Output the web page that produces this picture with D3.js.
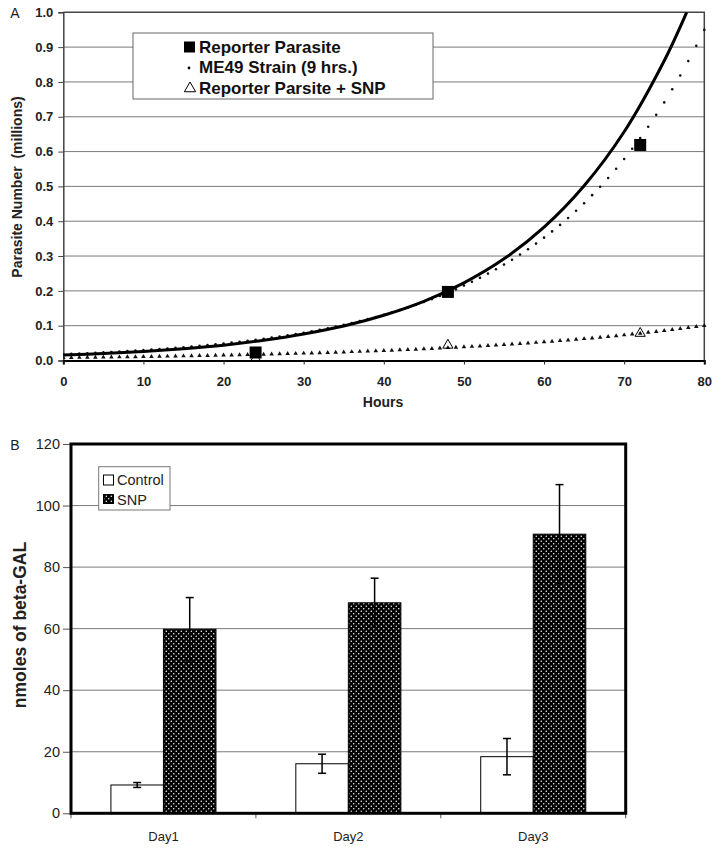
<!DOCTYPE html>
<html><head><meta charset="utf-8">
<script src="https://cdn.jsdelivr.net/npm/d3@7"></script>
<style>
body{margin:0;background:#fff;}
svg text{font-family:"Liberation Sans",Arial,sans-serif;}
</style></head>
<body>
<svg id="c" width="717" height="851"></svg>
<script>
// ---------- Panel A data ----------
const xTicksA = [0,10,20,30,40,50,60,70,80];
const yTicksA = [0,0.1,0.2,0.3,0.4,0.5,0.6,0.7,0.8,0.9,1.0];
const reporterHours = [24,48,72];
const reporterValues = [0.023,0.197,0.619];
const snpHours = [24,48,72];
const snpValues = [0.003,0.041,0.075];
// trend line of reporter parasite
const trendHours = [0,5,10,15,20,25,30,35,40,45,50,55,60,65,70,75,77.8];
const trendValues = [0.016,0.020,0.026,0.034,0.044,0.058,0.076,0.099,0.130,0.170,0.223,0.292,0.383,0.502,0.657,0.861,1.0];
// ME49 strain (9 hrs.) hourly markers, hours 0..80
const me49Values = [
0.0181,0.0190,0.0200,0.0210,0.0221,0.0232,0.0244,0.0256,0.0269,0.0283,
0.0297,0.0312,0.0328,0.0344,0.0362,0.0380,0.0400,0.0420,0.0441,0.0464,
0.0487,0.0512,0.0538,0.0565,0.0594,0.0624,0.0656,0.0689,0.0724,0.0761,
0.0799,0.0840,0.0882,0.0927,0.0974,0.1024,0.1075,0.1130,0.1187,0.1248,
0.1311,0.1377,0.1447,0.1521,0.1598,0.1679,0.1764,0.1854,0.1948,0.2047,
0.2151,0.2260,0.2374,0.2495,0.2622,0.2754,0.2894,0.3041,0.3195,0.3357,
0.3528,0.3707,0.3895,0.4093,0.4300,0.4518,0.4748,0.4989,0.5242,0.5508,
0.5787,0.6081,0.6390,0.6714,0.7055,0.7412,0.7789,0.8184,0.8599,0.9036,
0.9494];
// Reporter + SNP hourly trend markers, hours 0..80
const snpTrendValues = [
0.0080,0.0083,0.0085,0.0088,0.0091,0.0094,0.0097,0.0100,0.0103,0.0106,
0.0110,0.0113,0.0117,0.0121,0.0124,0.0129,0.0133,0.0137,0.0141,0.0146,
0.0151,0.0155,0.0160,0.0165,0.0171,0.0176,0.0182,0.0188,0.0194,0.0200,
0.0207,0.0213,0.0220,0.0227,0.0234,0.0242,0.0250,0.0258,0.0266,0.0274,
0.0283,0.0292,0.0302,0.0311,0.0321,0.0332,0.0342,0.0353,0.0365,0.0376,
0.0389,0.0401,0.0414,0.0427,0.0441,0.0455,0.0470,0.0485,0.0500,0.0516,
0.0533,0.0550,0.0568,0.0586,0.0605,0.0624,0.0644,0.0665,0.0686,0.0708,
0.0731,0.0755,0.0779,0.0804,0.0830,0.0856,0.0884,0.0912,0.0941,0.0972,
0.1003];
const legendA = ["Reporter Parasite","ME49 Strain (9 hrs.)","Reporter Parsite + SNP"];

// ---------- Panel B data ----------
const days = ["Day1","Day2","Day3"];
const groups = ["Control","SNP"];
const controlMeans = [9.2,16.1,18.4];
const controlErr = [0.8,3.1,5.9];
const snpMeans = [59.8,68.4,90.7];
const snpErr = [10.3,8.0,16.1];
const yTicksB = [0,20,40,60,80,100,120];

const svg = d3.select("#c");

// pattern for SNP bars
const defs = svg.append("defs");
const pat = defs.append("pattern").attr("id","dots").attr("patternUnits","userSpaceOnUse")
  .attr("width",5).attr("height",5);
pat.append("rect").attr("width",5).attr("height",5).attr("fill","#000");
pat.append("circle").attr("cx",1.25).attr("cy",1.25).attr("r",0.75).attr("fill","#fff");
pat.append("circle").attr("cx",3.75).attr("cy",3.75).attr("r",0.75).attr("fill","#fff");

// ================= Panel A =================
const xA = d3.scaleLinear().domain([0,80]).range([63.3,704.3]);
const yA = d3.scaleLinear().domain([0,1]).range([360.5,12.3]);
const gA = svg.append("g");

// gridlines
gA.selectAll("line.grid").data(yTicksA.filter(d=>d>0&&d<1)).join("line")
  .attr("x1",xA(0)).attr("x2",xA(80)).attr("y1",d=>yA(d)).attr("y2",d=>yA(d))
  .attr("stroke","#7a7a7a").attr("stroke-width",1);
// frame top/right
gA.append("path").attr("d",`M${xA(0)},${yA(1)}H${xA(80)}V${yA(0)}`)
  .attr("fill","none").attr("stroke","#444").attr("stroke-width",1.5);

// axes
const yAxA = gA.append("g").attr("transform",`translate(${xA(0)},0)`)
  .call(d3.axisLeft(yA).tickValues(yTicksA).tickFormat(d3.format(".1f")).tickSize(5).tickPadding(5));
yAxA.select(".domain").attr("stroke","#444").attr("stroke-width",1.5);
yAxA.selectAll(".tick line").attr("stroke","#444");
yAxA.selectAll("text").attr("font-size",13).attr("font-weight","bold").attr("fill","#222");

const xAxA = gA.append("g").attr("transform",`translate(0,${yA(0)})`)
  .call(d3.axisBottom(xA).tickValues(xTicksA).tickFormat(d3.format("d")).tickSize(4).tickPadding(12));
xAxA.select(".domain").attr("stroke","#000").attr("stroke-width",2);
xAxA.selectAll(".tick line").attr("stroke","#222");
xAxA.selectAll("text").attr("font-size",13).attr("font-weight","bold").attr("fill","#222");

// titles
gA.append("text").attr("x",383).attr("y",407).attr("text-anchor","middle")
  .attr("font-size",14).attr("font-weight","bold").attr("fill","#222").text("Hours");
gA.append("text").attr("transform","translate(22,187) rotate(-90)").attr("text-anchor","middle")
  .attr("font-size",14).attr("font-weight","bold").attr("fill","#222").attr("xml:space","preserve")
  .text("Parasite Number  (millions)");
gA.append("text").attr("x",15).attr("y",18).attr("text-anchor","middle")
  .attr("font-size",14).attr("fill","#222").text("A");

// clip for plot
defs.append("clipPath").attr("id","clipA").append("rect")
  .attr("x",xA(0)).attr("y",yA(1)).attr("width",xA(80)-xA(0)+3).attr("height",yA(0)-yA(1));
const plotA = gA.append("g").attr("clip-path","url(#clipA)");

const hoursAll = d3.range(me49Values.length);
// SNP trend small triangles
plotA.selectAll("path.snpT").data(snpTrendValues).join("path")
  .attr("transform",(d,i)=>`translate(${xA(hoursAll[i])},${yA(d)})`)
  .attr("d",d3.symbol(d3.symbolTriangle,9)).attr("fill","#111");
// ME49 dots
plotA.selectAll("circle.me").data(me49Values).join("circle")
  .attr("cx",(d,i)=>xA(hoursAll[i])).attr("cy",d=>yA(d)).attr("r",1.3).attr("fill","#111");
// trend line
const line = d3.line().x((d,i)=>xA(trendHours[i])).y(d=>yA(d)).curve(d3.curveCatmullRom);
plotA.append("path").datum(trendValues).attr("d",line)
  .attr("fill","none").attr("stroke","#000").attr("stroke-width",3);
// reporter squares
plotA.selectAll("rect.rep").data(reporterValues).join("rect")
  .attr("x",(d,i)=>xA(reporterHours[i])-6).attr("y",d=>yA(d)-6)
  .attr("width",12).attr("height",12).attr("fill","#000");
// SNP hollow triangles
gA.selectAll("path.snp").data(snpValues).join("path")
  .attr("transform",(d,i)=>`translate(${xA(snpHours[i])},${yA(d)-1})`)
  .attr("d",d3.symbol(d3.symbolTriangle,45)).attr("fill","none").attr("stroke","#000").attr("stroke-width",1);

// legend A
const lgA = gA.append("g");
lgA.append("rect").attr("x",133).attr("y",33).attr("width",300).attr("height",66)
  .attr("fill","#fff").attr("stroke","#666").attr("stroke-width",1);
lgA.selectAll("text").data(legendA).join("text")
  .attr("x",199).attr("y",(d,i)=>53+i*20.4).attr("font-size",17).attr("font-weight","bold")
  .attr("fill","#111").text(d=>d);
lgA.append("rect").attr("x",184).attr("y",41.5).attr("width",11).attr("height",11).attr("fill","#000");
lgA.append("circle").attr("cx",189).attr("cy",68).attr("r",1.4).attr("fill","#000");
lgA.append("path").attr("transform","translate(190,88.5)").attr("d",d3.symbol(d3.symbolTriangle,55))
  .attr("fill","none").attr("stroke","#000").attr("stroke-width",1);

// ================= Panel B =================
const xB = d3.scaleBand().domain(days).range([71,625.7]).padding(0);
const xSub = d3.scaleBand().domain(groups).range([0,xB.bandwidth()]).paddingInner(0).paddingOuter(0.76);
const yB = d3.scaleLinear().domain([0,120]).range([813.3,444]);
const gB = svg.append("g");

gB.selectAll("line.grid").data(yTicksB.filter(d=>d>0&&d<120)).join("line")
  .attr("x1",xB.range()[0]).attr("x2",xB.range()[1]).attr("y1",d=>yB(d)).attr("y2",d=>yB(d))
  .attr("stroke","#7a7a7a").attr("stroke-width",1);

const yAxB = gB.append("g").attr("transform",`translate(71,0)`)
  .call(d3.axisLeft(yB).tickValues(yTicksB).tickSize(8).tickPadding(3));
yAxB.select(".domain").remove();
yAxB.selectAll(".tick line").attr("stroke","#555");
yAxB.selectAll("text").attr("font-size",14.5).attr("fill","#222");

const xAxB = gB.append("g").attr("transform",`translate(0,${yB(0)})`)
  .call(d3.axisBottom(xB).tickSize(0).tickPadding(18));
xAxB.select(".domain").remove();
xAxB.selectAll("text").attr("font-size",13).attr("fill","#222");
// category boundary ticks
const bounds = days.map(d=>xB(d)).concat([xB.range()[1]]);
gB.selectAll("line.bt").data(bounds).join("line")
  .attr("x1",d=>d).attr("x2",d=>d).attr("y1",yB(0)).attr("y2",yB(0)+5)
  .attr("stroke","#555").attr("stroke-width",1);

// bars
const barData = [];
days.forEach((d,i)=>{
  barData.push({day:d,g:"Control",v:controlMeans[i],e:controlErr[i]});
  barData.push({day:d,g:"SNP",v:snpMeans[i],e:snpErr[i]});
});
gB.selectAll("rect.bar").data(barData).join("rect")
  .attr("x",d=>xB(d.day)+xSub(d.g)).attr("y",d=>yB(d.v))
  .attr("width",xSub.bandwidth()).attr("height",d=>yB(0)-yB(d.v))
  .attr("fill",d=>d.g==="SNP"?"url(#dots)":"#fff").attr("stroke","#000").attr("stroke-width",1);
// error bars
const eb = gB.selectAll("g.eb").data(barData).join("g")
  .attr("transform",d=>`translate(${xB(d.day)+xSub(d.g)+xSub.bandwidth()/2},0)`);
eb.append("line").attr("y1",d=>yB(d.v-d.e)).attr("y2",d=>yB(d.v+d.e)).attr("stroke","#000").attr("stroke-width",1.5);
eb.append("line").attr("x1",-4).attr("x2",4).attr("y1",d=>yB(d.v+d.e)).attr("y2",d=>yB(d.v+d.e)).attr("stroke","#000").attr("stroke-width",1.5);
eb.append("line").attr("x1",-4).attr("x2",4).attr("y1",d=>yB(d.v-d.e)).attr("y2",d=>yB(d.v-d.e)).attr("stroke","#000").attr("stroke-width",1.5);

// frame
gB.append("rect").attr("x",71).attr("y",yB(120)).attr("width",625.7-71).attr("height",yB(0)-yB(120))
  .attr("fill","none").attr("stroke","#000").attr("stroke-width",3);

// titles
gB.append("text").attr("transform","translate(26,625) rotate(-90)").attr("text-anchor","middle")
  .attr("font-size",17.5).attr("font-weight","bold").attr("fill","#222").text("nmoles of beta-GAL");
gB.append("text").attr("x",15).attr("y",450).attr("text-anchor","middle")
  .attr("font-size",14).attr("fill","#222").text("B");

// legend B
const lgB = gB.append("g");
lgB.append("rect").attr("x",98.7).attr("y",466.7).attr("width",71.3).attr("height",43.3)
  .attr("fill","#fff").attr("stroke","#777").attr("stroke-width",1);
lgB.selectAll("text").data(groups).join("text")
  .attr("x",117).attr("y",(d,i)=>485+i*19.5).attr("font-size",14.5).attr("fill","#222").text(d=>d);
lgB.append("rect").attr("x",103.5).attr("y",475).attr("width",10).attr("height",10)
  .attr("fill","#fff").attr("stroke","#000").attr("stroke-width",1);
lgB.append("rect").attr("x",103.5).attr("y",494.5).attr("width",10).attr("height",9)
  .attr("fill","url(#dots)").attr("stroke","#000").attr("stroke-width",1);
</script>
</body></html>
